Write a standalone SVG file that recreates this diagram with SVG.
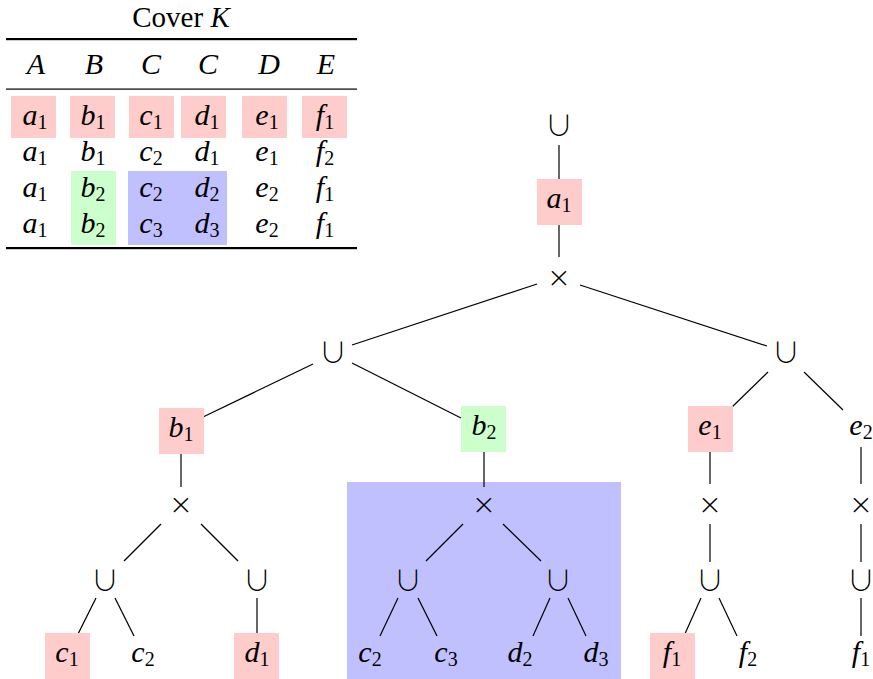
<svg xmlns="http://www.w3.org/2000/svg" width="873" height="679" viewBox="0 0 873 679">
<style>
text{font-family:"Liberation Serif","DejaVu Serif",serif;fill:#000;text-anchor:middle}
.m{font-style:italic;font-size:30px}
.s{font-style:normal;font-size:20px}
.op{font-family:"DejaVu Sans",sans-serif;font-size:29px;font-weight:200}
.cup{font-family:"Noto Sans CJK JP","DejaVu Sans",sans-serif;font-size:28px;font-weight:300}
.r{fill:#ffcccc}
.g{fill:#ccffcc}
.b{fill:#c0c0ff}
line{stroke:#000;stroke-width:1.2}
</style>
<g id="table">
<text x="181" y="27" style="font-size:29px">Cover <tspan font-style="italic">K</tspan></text>
<rect x="6" y="38" width="351" height="2.2" fill="#000"/>
<rect x="6" y="88.5" width="351" height="1.2" fill="#000"/>
<rect x="6" y="247" width="351" height="2.2" fill="#000"/>
<g class="hdr">
<text class="m" x="36" y="74">A</text>
<text class="m" x="94" y="74">B</text>
<text class="m" x="151" y="74">C</text>
<text class="m" x="208" y="74">C</text>
<text class="m" x="269" y="74">D</text>
<text class="m" x="326" y="74">E</text>
</g>
<rect class="r" x="11" y="96" width="45" height="42"/>
<rect class="r" x="70" y="96" width="45" height="42"/>
<rect class="r" x="129" y="96" width="45" height="42"/>
<rect class="r" x="181" y="96" width="45" height="42"/>
<rect class="r" x="242" y="96" width="45" height="42"/>
<rect class="r" x="302" y="96" width="45" height="42"/>
<rect class="g" x="71" y="171" width="45" height="74"/>
<rect class="b" x="128" y="171" width="99" height="74"/>
<g id="row1">
<text class="m" x="35" y="125">a<tspan class="s" dy="4">1</tspan></text>
<text class="m" x="93" y="125">b<tspan class="s" dy="4">1</tspan></text>
<text class="m" x="151" y="125">c<tspan class="s" dy="4">1</tspan></text>
<text class="m" x="207" y="125">d<tspan class="s" dy="4">1</tspan></text>
<text class="m" x="267" y="125">e<tspan class="s" dy="4">1</tspan></text>
<text class="m" x="325" y="125">f<tspan class="s" dy="4">1</tspan></text>
</g>
<g id="row2">
<text class="m" x="35" y="161">a<tspan class="s" dy="4">1</tspan></text>
<text class="m" x="93" y="161">b<tspan class="s" dy="4">1</tspan></text>
<text class="m" x="151" y="161">c<tspan class="s" dy="4">2</tspan></text>
<text class="m" x="207" y="161">d<tspan class="s" dy="4">1</tspan></text>
<text class="m" x="267" y="161">e<tspan class="s" dy="4">1</tspan></text>
<text class="m" x="325" y="161">f<tspan class="s" dy="4">2</tspan></text>
</g>
<g id="row3">
<text class="m" x="35" y="197">a<tspan class="s" dy="4">1</tspan></text>
<text class="m" x="93" y="197">b<tspan class="s" dy="4">2</tspan></text>
<text class="m" x="151" y="197">c<tspan class="s" dy="4">2</tspan></text>
<text class="m" x="207" y="197">d<tspan class="s" dy="4">2</tspan></text>
<text class="m" x="267" y="197">e<tspan class="s" dy="4">2</tspan></text>
<text class="m" x="325" y="197">f<tspan class="s" dy="4">1</tspan></text>
</g>
<g id="row4">
<text class="m" x="35" y="233">a<tspan class="s" dy="4">1</tspan></text>
<text class="m" x="93" y="233">b<tspan class="s" dy="4">2</tspan></text>
<text class="m" x="151" y="233">c<tspan class="s" dy="4">3</tspan></text>
<text class="m" x="207" y="233">d<tspan class="s" dy="4">3</tspan></text>
<text class="m" x="267" y="233">e<tspan class="s" dy="4">2</tspan></text>
<text class="m" x="325" y="233">f<tspan class="s" dy="4">1</tspan></text>
</g>
</g>
<rect id="blue-region" class="b" x="347" y="482" width="274" height="197"/>
<g id="connectors">
<line x1="559" y1="145" x2="559" y2="180"/>
<line x1="559" y1="222" x2="559" y2="257"/>
<line x1="537" y1="284" x2="352" y2="345"/>
<line x1="580" y1="285" x2="767" y2="346"/>
<line x1="313" y1="364" x2="203" y2="417"/>
<line x1="352" y1="363" x2="461" y2="418"/>
<line x1="768" y1="372" x2="729" y2="410"/>
<line x1="804" y1="372" x2="843" y2="410"/>
<line x1="181" y1="453" x2="181" y2="487"/>
<line x1="161" y1="524" x2="124" y2="561"/>
<line x1="201" y1="524" x2="238" y2="561"/>
<line x1="96" y1="598" x2="77" y2="636"/>
<line x1="115" y1="598" x2="134" y2="636"/>
<line x1="257" y1="598" x2="257" y2="633"/>
<line x1="484" y1="452" x2="484" y2="487"/>
<line x1="463" y1="524" x2="426" y2="561"/>
<line x1="503" y1="524" x2="541" y2="561"/>
<line x1="398" y1="598" x2="380" y2="636"/>
<line x1="418" y1="598" x2="437" y2="636"/>
<line x1="550" y1="598" x2="533" y2="636"/>
<line x1="568" y1="598" x2="586" y2="636"/>
<line x1="710" y1="447" x2="710" y2="484"/>
<line x1="710" y1="524" x2="710" y2="562"/>
<line x1="701" y1="598" x2="684" y2="636"/>
<line x1="719" y1="598" x2="737" y2="636"/>
<line x1="861" y1="447" x2="861" y2="484"/>
<line x1="861" y1="524" x2="861" y2="562"/>
<line x1="861" y1="598" x2="861" y2="636"/>
</g>
<g id="n-root"><text class="cup" x="559" y="136">∪</text></g>
<g id="n-a1"><rect class="r" x="537" y="179" width="45" height="46"/><text class="m" x="559" y="208">a<tspan class="s" dy="4">1</tspan></text></g>
<g id="n-x0"><text class="op" x="559" y="287">×</text></g>
<g id="n-uL"><text class="cup" x="333" y="363">∪</text></g>
<g id="n-uR"><text class="cup" x="786" y="363">∪</text></g>
<g id="n-b1"><rect class="r" x="159" y="408" width="45" height="46"/><text class="m" x="181" y="437">b<tspan class="s" dy="4">1</tspan></text></g>
<g id="n-b2"><rect class="g" x="461" y="406" width="45" height="46"/><text class="m" x="484" y="435">b<tspan class="s" dy="4">2</tspan></text></g>
<g id="n-e1"><rect class="r" x="688" y="406" width="45" height="46"/><text class="m" x="710" y="435">e<tspan class="s" dy="4">1</tspan></text></g>
<g id="n-e2"><text class="m" x="861" y="435">e<tspan class="s" dy="4">2</tspan></text></g>
<g id="n-x1"><text class="op" x="181" y="514">×</text></g>
<g id="n-x2"><text class="op" x="484" y="514">×</text></g>
<g id="n-x3"><text class="op" x="710" y="514">×</text></g>
<g id="n-x4"><text class="op" x="861" y="514">×</text></g>
<g id="n-u1"><text class="cup" x="105" y="591">∪</text></g>
<g id="n-u2"><text class="cup" x="257" y="591">∪</text></g>
<g id="n-u3"><text class="cup" x="408" y="591">∪</text></g>
<g id="n-u4"><text class="cup" x="558" y="591">∪</text></g>
<g id="n-u5"><text class="cup" x="710" y="591">∪</text></g>
<g id="n-u6"><text class="cup" x="861" y="591">∪</text></g>
<g id="n-c1"><rect class="r" x="45" y="633" width="45" height="46"/><text class="m" x="67" y="662">c<tspan class="s" dy="4">1</tspan></text></g>
<g id="n-c2a"><text class="m" x="143" y="662">c<tspan class="s" dy="4">2</tspan></text></g>
<g id="n-d1"><rect class="r" x="234" y="633" width="45" height="46"/><text class="m" x="257" y="662">d<tspan class="s" dy="4">1</tspan></text></g>
<g id="n-c2"><text class="m" x="370" y="662">c<tspan class="s" dy="4">2</tspan></text></g>
<g id="n-c3"><text class="m" x="446" y="662">c<tspan class="s" dy="4">3</tspan></text></g>
<g id="n-d2"><text class="m" x="520" y="662">d<tspan class="s" dy="4">2</tspan></text></g>
<g id="n-d3"><text class="m" x="596" y="662">d<tspan class="s" dy="4">3</tspan></text></g>
<g id="n-f1"><rect class="r" x="650" y="633" width="45" height="46"/><text class="m" x="672" y="662">f<tspan class="s" dy="4">1</tspan></text></g>
<g id="n-f2"><text class="m" x="748" y="662">f<tspan class="s" dy="4">2</tspan></text></g>
<g id="n-f1b"><text class="m" x="861" y="662">f<tspan class="s" dy="4">1</tspan></text></g>
</svg>
